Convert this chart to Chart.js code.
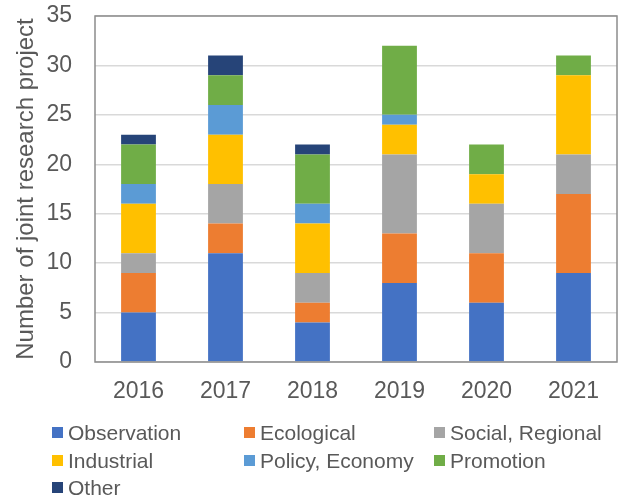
<!DOCTYPE html>
<html>
<head>
<meta charset="utf-8">
<script src="https://cdn.jsdelivr.net/npm/chart.js@4"></script>
<style>
  body { margin: 0; background: #fff; }
  #wrap { position: relative; width: 620px; height: 503px; }
  #legend {
    position: absolute; left: 52px; top: 419px;
    display: grid; grid-template-columns: 192px 190px auto;
    font-family: "Liberation Sans", Arial, sans-serif; font-size: 21px; color: #595959;
  }
  .item { display: flex; align-items: center; height: 27.5px; line-height: 27.5px; white-space: nowrap; }
  .box { width: 11px; height: 11px; margin-right: 5px; flex: none; }
</style>
</head>
<body>
<div id="wrap">
  <canvas id="myChart" width="620" height="503"></canvas>
  <div id="legend"></div>
</div>
<script>

// data

const years = ["2016", "2017", "2018", "2019", "2020", "2021"];

const observation = [5, 11, 4, 8, 6, 9];
const ecological  = [4, 3, 2, 5, 5, 8];
const social      = [2, 4, 3, 8, 5, 4];
const industrial  = [5, 5, 5, 3, 3, 8];
const policy      = [2, 3, 2, 1, 0, 0];
const promotion   = [4, 3, 5, 7, 3, 2];
const other       = [1, 2, 1, 0, 0, 0];

const seriesNames  = ["Observation", "Ecological", "Social, Regional", "Industrial", "Policy, Economy", "Promotion", "Other"];
const seriesColors = ["#4472C4", "#ED7D31", "#A5A5A5", "#FFC000", "#5B9BD5", "#70AD47", "#264478"];
const seriesData   = [observation, ecological, social, industrial, policy, promotion, other];

const yTicks = { min: 0, max: 35, step: 5 };

const font = "'Liberation Sans', Arial, sans-serif";
const textColor = "#595959";

// frame round the plot area
const plotBorder = {
  id: 'plotBorder',
  afterDatasetsDraw(chart) {
    const { ctx, chartArea: a } = chart;
    ctx.save();
    ctx.strokeStyle = "#8c8c8c";
    ctx.lineWidth = 1.5;
    ctx.strokeRect(a.left, a.top, a.right - a.left, a.bottom - a.top);
    ctx.restore();
  }
};

const datasets = seriesNames.map((name, i) => ({
  label: name,
  data: seriesData[i],
  backgroundColor: seriesColors[i],
  borderWidth: 0,
  barPercentage: 0.4,
  categoryPercentage: 1
}));

const ctx = document.getElementById('myChart');

const myChart = new Chart(ctx, {
  type: 'bar',
  data: { labels: years, datasets: datasets },
  options: {
    responsive: false,
    animation: false,
    layout: { padding: { top: 16, right: 3, left: 0, bottom: 0 } },
    plugins: {
      legend: { display: false },
      tooltip: { enabled: false }
    },
    scales: {
      x: {
        stacked: true,
        grid: { display: false, drawTicks: false },
        border: { display: false },
        ticks: { color: textColor, font: { family: font, size: 23 }, padding: 16 },
        afterFit: (scale) => { scale.height = 141; }
      },
      y: {
        stacked: true,
        min: yTicks.min,
        max: yTicks.max,
        // invisible tick marks give the gap between labels and plot
        grid: { color: "#d9d9d9", lineWidth: 1.5, drawTicks: true, tickLength: 23, tickColor: 'transparent' },
        border: { display: false },
        ticks: { stepSize: yTicks.step, color: textColor, font: { family: font, size: 23 }, padding: 0 },
        title: {
          display: true,
          text: "Number of joint research project",
          color: textColor,
          font: { family: font, size: 24 },
          padding: { top: 12, bottom: 0 }
        },
        afterFit: (scale) => { scale.width = 95; }
      }
    }
  },
  plugins: [plotBorder]
});

// legend as a grid of three columns
const legend = document.getElementById('legend');
seriesNames.forEach((name, i) => {
  const item = document.createElement('div');
  item.className = 'item';
  const box = document.createElement('span');
  box.className = 'box';
  box.style.background = seriesColors[i];
  const label = document.createElement('span');
  label.textContent = name;
  item.appendChild(box);
  item.appendChild(label);
  legend.appendChild(item);
});

</script>
</body>
</html>
